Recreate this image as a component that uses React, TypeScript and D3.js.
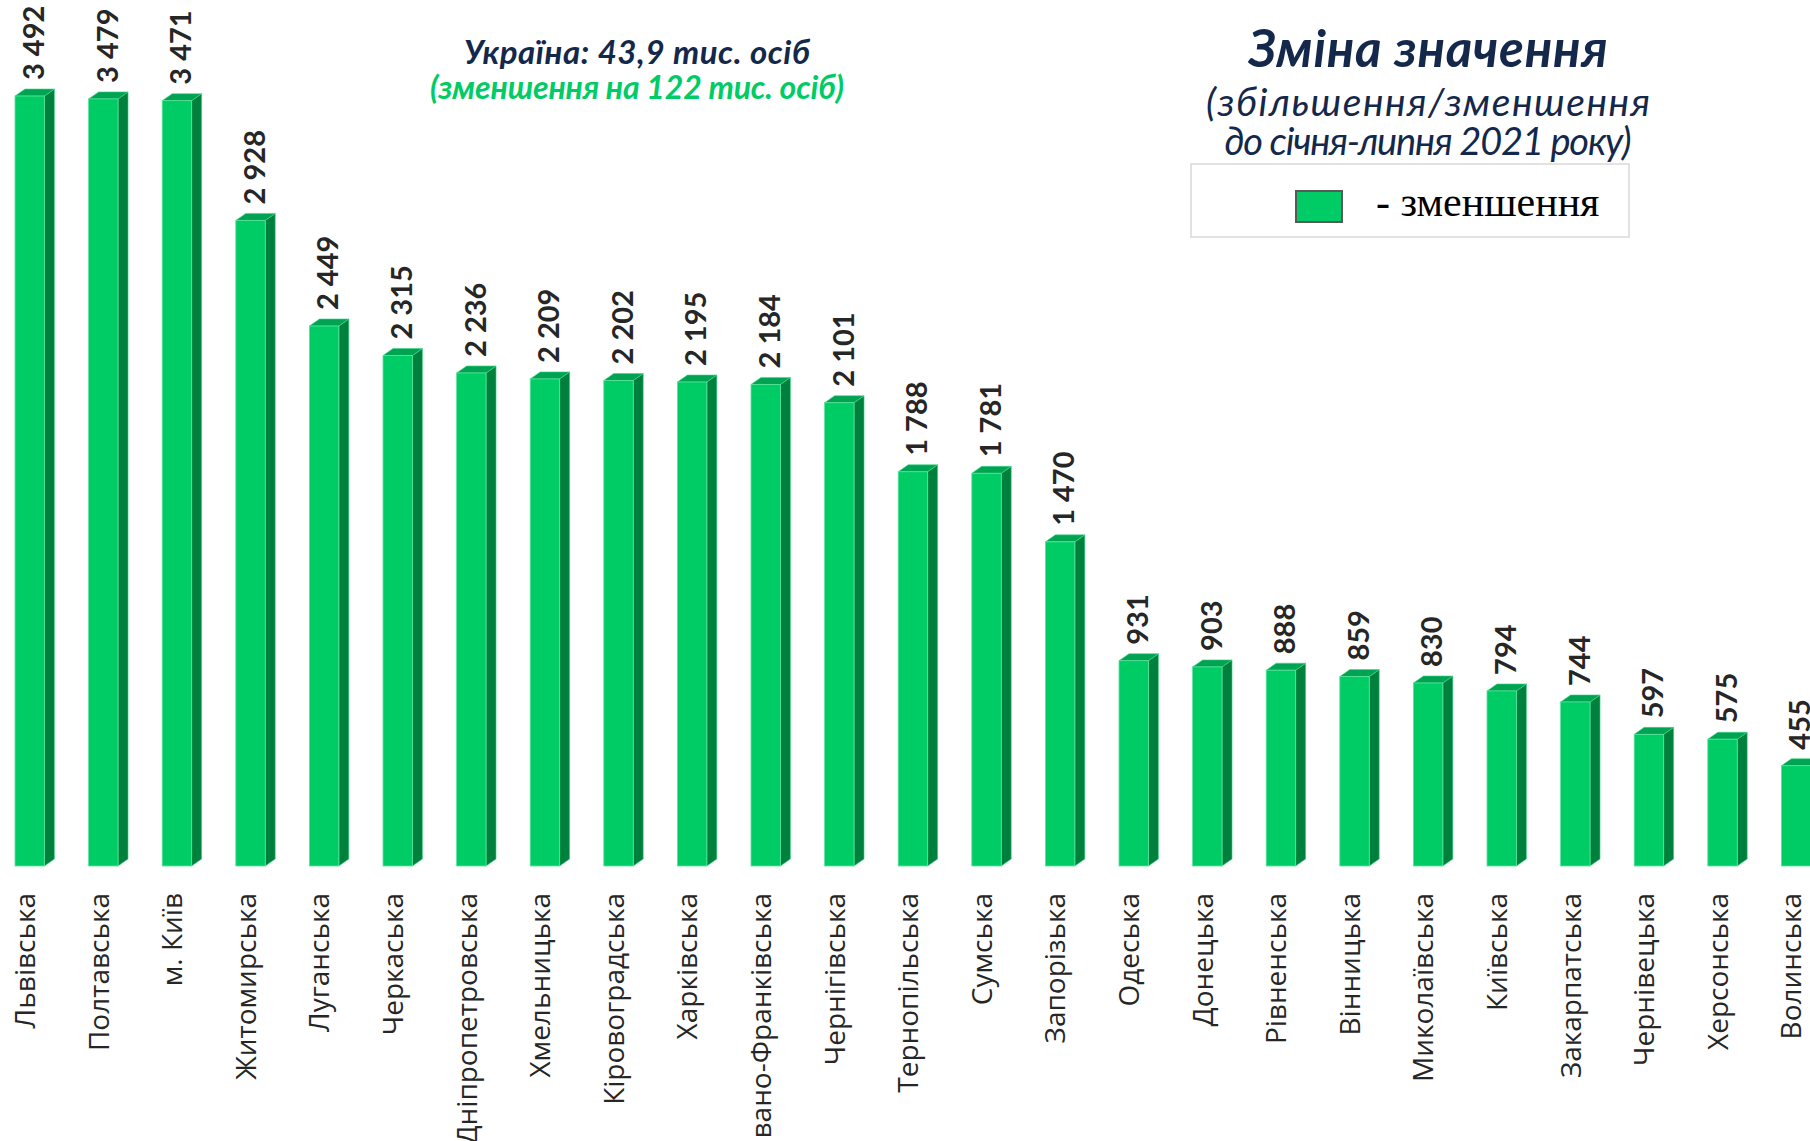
import React from 'react';
import * as d3 from 'd3';

const categories = ['Львівська','Полтавська','м. Київ','Житомирська','Луганська','Черкаська','Дніпропетровська','Хмельницька','Кіровоградська','Харківська','Івано-Франківська','Чернігівська','Тернопільська','Сумська','Запорізька','Одеська','Донецька','Рівненська','Вінницька','Миколаївська','Київська','Закарпатська','Чернівецька','Херсонська','Волинська'];
const values = [3492,3479,3471,2928,2449,2315,2236,2209,2202,2195,2184,2101,1788,1781,1470,931,903,888,859,830,794,744,597,575,455];

const titleLine1 = 'Україна: 43,9 тис. осіб';
const titleLine2 = '(зменшення на 122 тис. осіб)';
const headTitle = 'Зміна значення';
const headSub1 = '(збільшення/зменшення';
const headSub2 = 'до січня-липня 2021 року)';
const legendLabel = '- зменшення';

const W = 1810, H = 1141;
const FRONT = '#00CC66', SIDE = '#00803D', TOP = '#00A352';
const NAVY = '#13284A';

export default function App() {
  const base = 866;
  const x = d3.scaleBand<string>().domain(categories).range([15, 15 + categories.length * 73.6]).padding(0);
  const y = d3.scaleLinear().domain([0, 3500]).range([base, base - 3500 * 0.2205]);
  const fmt = d3.formatLocale({ thousands: ' ', grouping: [3], decimal: ',', currency: ['', ''] }).format(',');
  const fw = x.bandwidth() * 0.4;
  const dx = 10, dy = 7;

  return (
    <svg width={W} height={H} style={{ position: 'absolute', left: 0, top: 0, display: 'block', background: '#fff' }}>
      {categories.map((c, i) => {
        const x0 = x(c)!;
        const top = y(values[i]);
        const side = `M${x0 + fw},${top} L${x0 + fw + dx},${top - dy} L${x0 + fw + dx},${base - dy} L${x0 + fw},${base} Z`;
        const topFace = `M${x0},${top} L${x0 + dx},${top - dy} L${x0 + fw + dx},${top - dy} L${x0 + fw},${top} Z`;
        return (
          <g key={c}>
            <path d={side} fill={SIDE} stroke="#3fd98a" strokeWidth={0.6} />
            <path d={topFace} fill={TOP} stroke="#3fd98a" strokeWidth={0.6} />
            <rect x={x0} y={top} width={fw} height={base - top} fill={FRONT} stroke="#5be39c" strokeWidth={0.8} />
            <text transform={`translate(${x0 + 29},${top - 16}) rotate(-90)`} fontFamily="Lato" fontWeight="bold" fontSize={29} fill="#262626">{fmt(values[i])}</text>
            <text transform={`translate(${x0 + 20},893) rotate(-90)`} textAnchor="end" fontFamily="Open Sans" fontSize={28} fill="#262626">{c}</text>
          </g>
        );
      })}
      <text x={637} y={64} textAnchor="middle" fontFamily="Lato" fontWeight="bold" fontStyle="italic" fontSize={33} textLength={346} lengthAdjust="spacing" fill={NAVY}>{titleLine1}</text>
      <text x={637} y={99} textAnchor="middle" fontFamily="Lato" fontWeight="bold" fontStyle="italic" fontSize={32} textLength={414} lengthAdjust="spacing" fill={FRONT}>{titleLine2}</text>

      <text x={1428} y={67} textAnchor="middle" fontFamily="Lato" fontWeight="bold" fontStyle="italic" fontSize={51} textLength={359} lengthAdjust="spacing" fill={NAVY}>{headTitle}</text>
      <text x={1428} y={116} textAnchor="middle" fontFamily="Lato" fontStyle="italic" fontSize={39} textLength={444} lengthAdjust="spacing" fill={NAVY}>{headSub1}</text>
      <text x={1428} y={155} textAnchor="middle" fontFamily="Lato" fontStyle="italic" fontSize={38} textLength={407} lengthAdjust="spacing" fill={NAVY}>{headSub2}</text>

      <rect x={1191} y={164} width={438} height={73} fill="#fff" stroke="#d9d9d9" strokeWidth={1.5} />
      <rect x={1296} y={191} width={46} height={31} fill={FRONT} stroke="#595959" strokeWidth={2} />
      <text x={1376} y={216} fontFamily="Liberation Serif" fontSize={42} fill="#000">{legendLabel}</text>
    </svg>
  );
}
